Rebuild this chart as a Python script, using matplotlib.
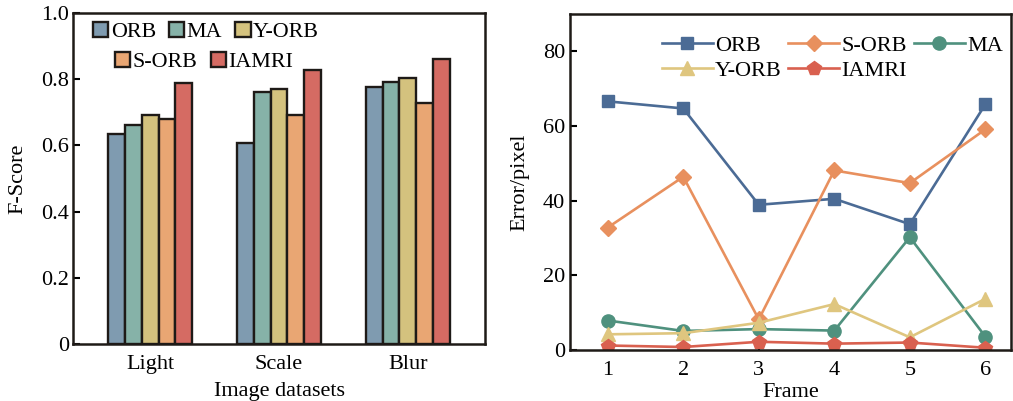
import matplotlib
matplotlib.use("Agg")
import matplotlib.pyplot as plt
import numpy as np

plt.rcParams['font.family'] = ['Liberation Serif', 'DejaVu Serif']
plt.rcParams['mathtext.fontset'] = 'stix'

# ---- data ----
datasets = ["Light", "Scale", "Blur"]
methods_bar = ["ORB", "MA", "Y-ORB", "S-ORB", "IAMRI"]
fscore_orb = [0.635, 0.608, 0.776]
fscore_ma = [0.662, 0.760, 0.791]
fscore_yorb = [0.692, 0.769, 0.803]
fscore_sorb = [0.681, 0.693, 0.727]
fscore_iamri = [0.788, 0.827, 0.861]

frames = [1, 2, 3, 4, 5, 6]
err_orb = [66.6, 64.7, 38.9, 40.5, 33.7, 65.8]
err_sorb = [32.8, 46.4, 8.2, 48.1, 44.7, 59.1]
err_ma = [7.9, 5.1, 5.6, 5.2, 30.2, 3.6]
err_yorb = [4.2, 4.5, 7.3, 12.3, 3.4, 13.7]
err_iamri = [1.2, 0.8, 2.2, 1.7, 2.0, 0.6]

bar_colors = ["#7f9bb0", "#86b2a8", "#d4c27e", "#e9a673", "#d56b63"]
line_colors = {"ORB": "#4b6b95", "S-ORB": "#e8905e", "MA": "#4f917e",
               "Y-ORB": "#dfc67f", "IAMRI": "#d9604f"}

W, H = 1013, 401
fig = plt.figure(figsize=(W / 100, H / 100), dpi=100)

# ---- left: bar chart ----
ax1 = fig.add_axes([73 / W, (H - 344) / H, (485 - 73) / W, (344 - 13) / H])
x = np.arange(len(datasets))
bw = 0.13
series = [fscore_orb, fscore_ma, fscore_yorb, fscore_sorb, fscore_iamri]
handles = []
for i, (vals, c, name) in enumerate(zip(series, bar_colors, methods_bar)):
    b = ax1.bar(x + (i - 2) * bw, vals, bw, color=c, edgecolor="#1e1a17",
                linewidth=1.7, label=name, zorder=3)
    handles.append(b)
ax1.set_xlim(-0.6, 2.6)
ax1.set_ylim(0, 1.0)
ax1.set_xticks(x)
ax1.set_xticklabels(datasets)
ax1.set_yticks([0, 0.2, 0.4, 0.6, 0.8, 1.0])
ax1.set_yticklabels(["0", "0.2", "0.4", "0.6", "0.8", "1.0"])
ax1.tick_params(axis="y", direction="in", length=5, width=1.5, labelsize=16, pad=3)
ax1.tick_params(axis="x", length=0, labelsize=16, pad=8)
for s in ax1.spines.values():
    s.set_linewidth(1.8)
    s.set_color("#1e1a17")
ax1.set_ylabel("F-Score", fontsize=16, labelpad=10)
ax1.set_xlabel("Image datasets", fontsize=16, labelpad=6)

leg_kw = dict(frameon=False, fontsize=15.8, handlelength=0.7, handleheight=0.7,
              handletextpad=0.1, columnspacing=0.6, borderaxespad=0, borderpad=0)
leg1 = ax1.legend(handles[:3], methods_bar[:3], ncol=3, loc="center",
                  bbox_to_anchor=((206 - 73) / 412, (344 - 32) / 331), **leg_kw)
ax1.add_artist(leg1)
ax1.legend(handles[3:], methods_bar[3:], ncol=2, loc="center",
           bbox_to_anchor=((204 - 73) / 412, (344 - 62) / 331), **leg_kw)

# ---- right: line chart ----
ax2 = fig.add_axes([570 / W, (H - 350) / H, (1011 - 570) / W, (350 - 14) / H])
lw = 1.9
ms = 9.5
l_orb, = ax2.plot(frames, err_orb, "-s", color=line_colors["ORB"], lw=lw, ms=ms - 0.5, label="ORB")
l_sorb, = ax2.plot(frames, err_sorb, "-D", color=line_colors["S-ORB"], lw=lw, ms=ms - 1, label="S-ORB")
l_ma, = ax2.plot(frames, err_ma, "-o", color=line_colors["MA"], lw=lw, ms=ms, label="MA")
l_yorb, = ax2.plot(frames, err_yorb, "-^", color=line_colors["Y-ORB"], lw=lw, ms=ms + 0.5, label="Y-ORB")
l_iamri, = ax2.plot(frames, err_iamri, "-p", color=line_colors["IAMRI"], lw=lw, ms=ms + 0.5, label="IAMRI")
ax2.set_xlim(0.5, 6.34)
ax2.set_ylim(0, 90)
ax2.set_xticks(frames)
ax2.set_yticks([0, 20, 40, 60, 80])
ax2.tick_params(axis="both", direction="in", length=5, width=1.5, labelsize=16)
ax2.tick_params(axis="x", pad=8)
for s in ax2.spines.values():
    s.set_linewidth(1.8)
    s.set_color("#1e1a17")
ax2.set_ylabel("Error/pixel", fontsize=16, labelpad=10)
ax2.set_xlabel("Frame", fontsize=16, labelpad=2)
ax2.legend([l_orb, l_yorb, l_sorb, l_iamri, l_ma],
           ["ORB", "Y-ORB", "S-ORB", "IAMRI", "MA"], ncol=3, loc="upper right",
           bbox_to_anchor=((1003 - 570) / 441, (350 - 35) / 336), frameon=False,
           fontsize=16, handlelength=2.3, handletextpad=0.1, columnspacing=0.3,
           labelspacing=0.2, borderaxespad=0, borderpad=0)

fig.savefig("out.png", dpi=100)
